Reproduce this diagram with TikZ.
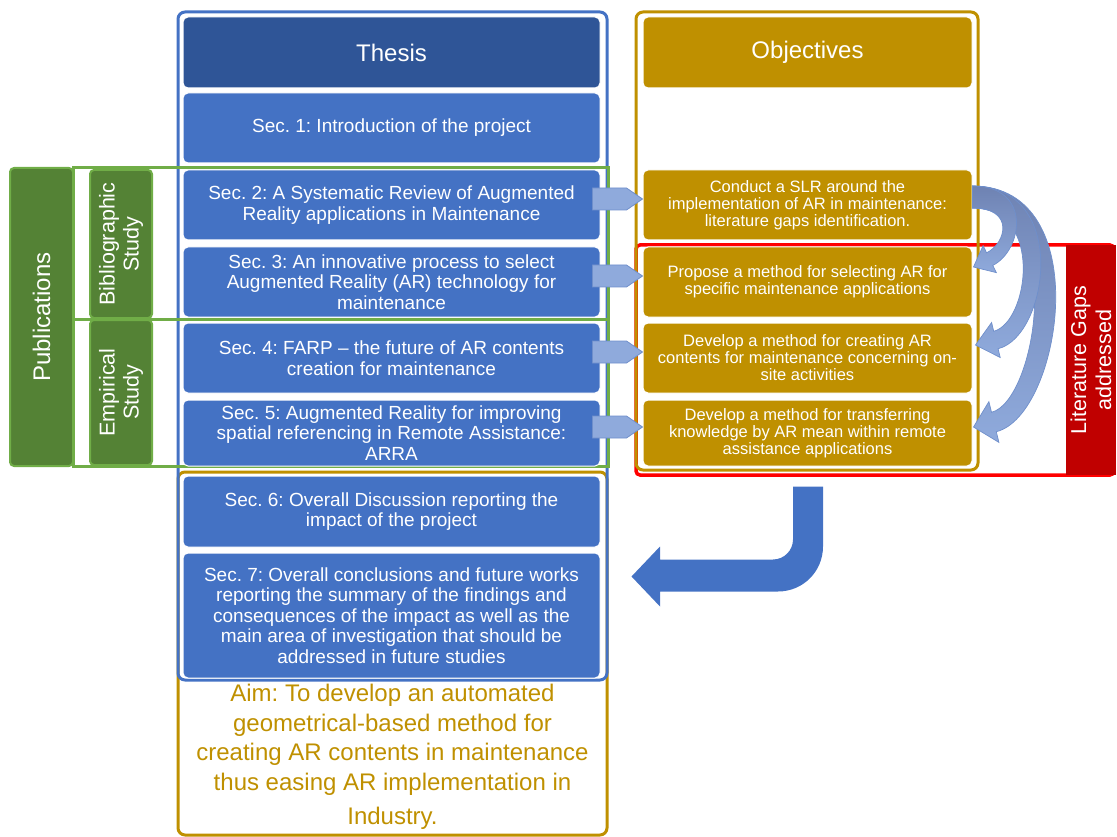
\documentclass[tikz,border=0pt]{standalone}
\usepackage{fontspec}
\setmainfont{Liberation Sans}
\usetikzlibrary{calc}

\definecolor{tblue}{HTML}{4472C4}
\definecolor{tdark}{HTML}{2F5597}
\definecolor{gold}{HTML}{BF9000}
\definecolor{gfill}{HTML}{548235}
\definecolor{gline}{HTML}{70AD47}
\definecolor{lblue}{HTML}{8FAADC}
\definecolor{ledge}{HTML}{6F8FCB}
\definecolor{adark}{HTML}{6E82B2}
\definecolor{dred}{HTML}{C00000}

\newcommand\fhead{\fontsize{24}{27}\selectfont}
\newcommand\fsec{\fontsize{19}{20.5}\selectfont}
\newcommand\fobj{\fontsize{16.5}{17}\selectfont}
\newcommand\faim{\fontsize{24}{29.5}\selectfont}
\newcommand\fpub{\fontsize{24}{26}\selectfont}
\newcommand\fstudy{\fontsize{21.5}{24}\selectfont}
\newcommand\fgap{\fontsize{21.5}{25}\selectfont}

% pentagon arrow from a thesis section to its objective
\newcommand\linkarrow[2]{%
  \filldraw[fill=lblue, draw=ledge, line width=0.8pt]
    ($(#1.east)+(-8,-17)$) -- ($(#2.west|-#1.east)+(-16,-17)$)
    -- ($(#2.west|-#1.east)+(0,-6)$) -- ($(#2.west|-#1.east)+(-16,5)$)
    -- ($(#1.east)+(-8,5)$) -- cycle;}

\begin{document}
\frenchspacing
\begin{tikzpicture}[x=1pt,y=-1pt,
  frame/.style={draw, line width=3pt, rounded corners=7pt, inner sep=0pt},
  box/.style={rounded corners=5pt, inner sep=0pt, align=center, text=white,
              draw=white, line width=1pt},
  secbox/.style={box, fill=tblue, minimum width=417pt, font=\fsec},
  objbox/.style={box, fill=gold, minimum width=329pt, font=\fobj},
  gbox/.style={rotate=90, fill=gfill, draw=gline, line width=2pt,
               rounded corners=4pt, inner sep=0pt, align=center, text=white}]
\useasboundingbox (0,0) rectangle (1117,837);

% outer frames
\node[frame, draw=gold, minimum width=429pt, minimum height=363pt] (aimf) at (392.5,653.5) {};
\node[frame, draw=tblue, minimum width=429pt, minimum height=668pt] (thf) at (392.5,346) {};
\node[frame, draw=red, line width=3.5pt, rounded corners=4pt,
      minimum width=478pt, minimum height=230pt] (gapf) at (875,360) {};
\node[frame, draw=gold, minimum width=342pt, minimum height=458pt] (objf) at (807,241) {};
\node[rotate=90, fill=dred, minimum width=230pt, minimum height=50pt, inner sep=0pt,
      align=center, text=white, font=\fgap] (gapbox) at (1091,360) {Literature Gaps\\addressed};

% publication groups
\draw[gline, line width=3pt] (73,168) rectangle (608,319);
\draw[gline, line width=3pt] (73,319) rectangle (608,466);
\node[gbox, minimum width=298pt, minimum height=63pt, font=\fpub] (pub) at (41.5,317) {Publications};
\node[gbox, minimum width=148pt, minimum height=62pt, font=\fstudy] (bib) at (121,244) {Bibliographic\\Study};
\node[gbox, minimum width=145pt, minimum height=62pt, font=\fstudy] (emp) at (121,392.5) {Empirical\\Study};

% thesis column
\node[box, fill=tdark, minimum width=417pt, minimum height=71pt, font=\fhead] (th) at (391.5,52.5) {Thesis};
\node[secbox, minimum height=70pt] (s1) at (391.5,128) {Sec. 1: Introduction of the project};
\node[secbox, minimum height=70pt] (s2) at (391.5,205) {Sec. 2: A Systematic Review of Augmented\\Reality applications in Maintenance};
\node[secbox, minimum height=70pt] (s3) at (391.5,282) {Sec. 3: An innovative process to select\\Augmented Reality (AR) technology for\\maintenance};
\node[secbox, minimum height=70pt] (s4) at (391.5,358) {Sec. 4: FARP – the future of AR contents\\creation for maintenance};
\node[secbox, minimum height=66pt] (s5) at (391.5,433) {Sec. 5: Augmented Reality for improving\\spatial referencing in Remote Assistance:\\ARRA};
\node[secbox, minimum height=71pt] (s6) at (391.5,511.5) {Sec. 6: Overall Discussion reporting the\\impact of the project};
\node[secbox, minimum height=125pt] (s7) at (391.5,615.5) {Sec. 7: Overall conclusions and future works\\reporting the summary of the findings and\\consequences of the impact as well as the\\main area of investigation that should be\\addressed in future studies};
\node[text=gold, align=center, font=\faim] (aim) at (392.5,757) {Aim: To develop an automated\\geometrical-based method for\\creating AR contents in maintenance\\thus easing AR implementation in\\[5pt]Industry.};

% objectives column
\node[box, fill=gold, minimum width=329pt, minimum height=71pt, font=\fhead] (oh) at (807.5,52.5) {Objectives};
\node[objbox, minimum height=70pt] (o1) at (807.5,205) {Conduct a SLR around the\\implementation of AR in maintenance:\\literature gaps identification.};
\node[objbox, minimum height=70pt] (o2) at (807.5,282) {Propose a method for selecting AR for\\specific maintenance applications};
\node[objbox, minimum height=70pt] (o3) at (807.5,358) {Develop a method for creating AR\\contents for maintenance concerning on-\\site activities};
\node[objbox, minimum height=66pt] (o4) at (807.5,433) {Develop a method for transferring\\knowledge by AR mean within remote\\assistance applications};

% section -> objective arrows
\linkarrow{s2}{o1}
\linkarrow{s3}{o2}
\linkarrow{s4}{o3}
\linkarrow{s5}{o4}

% curved arrows from the literature review to the gaps it reveals
\coordinate (t4) at ($(o4.east)+(1,-6)$);
\coordinate (t3) at ($(o3.east)+(3,-13)$);
\coordinate (t2) at ($(o2.east)+(1,-15)$);
\shade[top color=adark, bottom color=lblue, draw=ledge, line width=0.7pt]
  ($(o1.east)+(0,-19)$) .. controls +(125,0) and +(65,-16) .. ($(t4)+(22.8,4.7)$)
  -- ($(t4)+(25.4,15.4)$) -- (t4) -- ($(t4)+(15.4,-25.4)$) -- ($(t4)+(18.0,-14.7)$)
  .. controls +(45,-11) and +(95,0) .. ($(o1.east)+(0,3)$) -- cycle;
\shade[top color=adark, bottom color=lblue, draw=ledge, line width=0.7pt]
  ($(o1.east)+(0,-19)$) .. controls +(98,0) and +(50,-12) .. ($(t3)+(22.6,3.7)$)
  -- ($(t3)+(24.7,12.5)$) -- (t3) -- ($(t3)+(16.1,-22.5)$) -- ($(t3)+(18.2,-13.7)$)
  .. controls +(35,-9) and +(72,0) .. ($(o1.east)+(0,3)$) -- cycle;
\shade[top color=adark, bottom color=lblue, draw=ledge, line width=0.7pt]
  ($(o1.east)+(0,-19)$) .. controls +(60,0) and +(30,-15) .. ($(t2)+(19.3,-1.6)$)
  -- ($(t2)+(22.8,5.6)$) -- (t2) -- ($(t2)+(9.6,-21.4)$) -- ($(t2)+(13.1,-14.2)$)
  .. controls +(20,-10) and +(42,0) .. ($(o1.east)+(0,3)$) -- cycle;

% return arrow from the objectives back to the thesis
\coordinate (rs) at ($(objf.south)+(1,15)$);
\fill[tblue] ($(rs)+(-15,0)$) -- ($(rs)+(15,0)$) -- ($(rs)+(15,60)$)
  .. controls +(0,25) and +(25,0) .. ($(rs)+(-30,105)$) -- ($(rs)+(-148,105)$)
  -- ($(rs)+(-148,120)$) -- ($(thf.east|-rs)+(23,90)$) -- ($(rs)+(-148,60)$)
  -- ($(rs)+(-148,73)$) -- ($(rs)+(-35,73)$)
  .. controls +(11,0) and +(0,11) .. ($(rs)+(-15,53)$) -- cycle;
\end{tikzpicture}
\end{document}
